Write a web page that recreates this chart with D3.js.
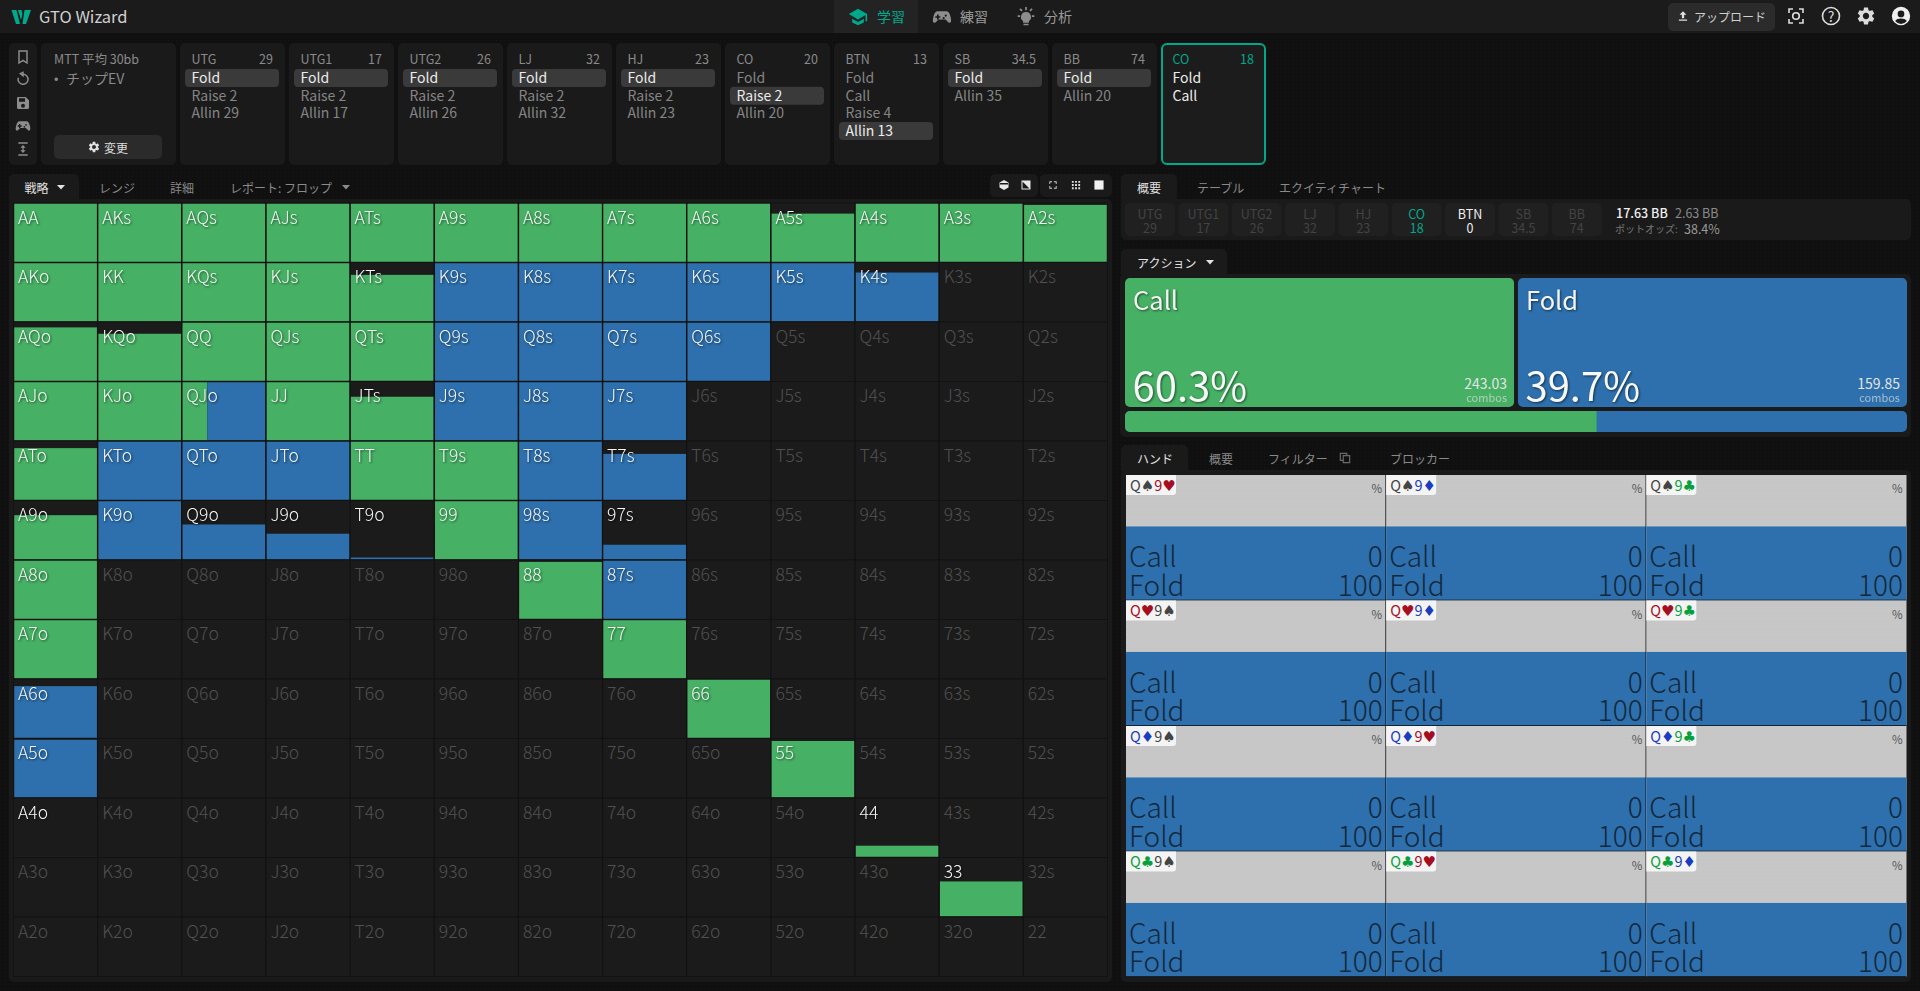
<!DOCTYPE html>
<html lang="ja">
<head>
<meta charset="utf-8">
<title>GTO Wizard</title>
<script src="https://cdn.jsdelivr.net/npm/d3@7"></script>
<style>
  html, body { margin: 0; padding: 0; background: #101010; overflow: hidden; }
  svg { display: block; }
  text { font-family: "Noto Sans CJK JP", "Noto Sans", sans-serif; }
  .shadow { filter: drop-shadow(1px 1px 1px rgba(0,0,0,.55)); }
</style>
</head>
<body>
<div id="app"></div>
<script>
// hand grid
const ranks = ["A", "K", "Q", "J", "T", "9", "8", "7", "6", "5", "4", "3", "2"];

// how much of each hand is in range (bar height)
const handReach = [
  [1, 1, 1, 1, 1, 1, 1, 1, 1, .83, 1, 1, .98],
  [1, 1, 1, 1, .8, 1, 1, 1, 1, 1, .84, 0, 0],
  [.92, .81, 1, 1, 1, 1, 1, 1, 1, 0, 0, 0, 0],
  [1, 1, 1, 1, .75, 1, 1, 1, 0, 0, 0, 0, 0],
  [.89, 1, 1, 1, 1, 1, 1, .79, 0, 0, 0, 0, 0],
  [.76, 1, .6, .44, .03, 1, 1, .25, 0, 0, 0, 0, 0],
  [1, 0, 0, 0, 0, 0, .98, 1, 0, 0, 0, 0, 0],
  [1, 0, 0, 0, 0, 0, 0, 1, 0, 0, 0, 0, 0],
  [.89, 0, 0, 0, 0, 0, 0, 0, 1, 0, 0, 0, 0],
  [.99, 0, 0, 0, 0, 0, 0, 0, 0, .97, 0, 0, 0],
  [.001, 0, 0, 0, 0, 0, 0, 0, 0, 0, .19, 0, 0],
  [0, 0, 0, 0, 0, 0, 0, 0, 0, 0, 0, .6, 0],
  [0, 0, 0, 0, 0, 0, 0, 0, 0, 0, 0, 0, 0]
];

// share of the bar that is Call, the rest is Fold
const handCall = [
  [1, 1, 1, 1, 1, 1, 1, 1, 1, 1, 1, 1, 1],
  [1, 1, 1, 1, 1, 0, 0, 0, 0, 0, 0, 0, 0],
  [1, 1, 1, 1, 1, 0, 0, 0, 0, 0, 0, 0, 0],
  [1, 1, .3, 1, 1, 0, 0, 0, 0, 0, 0, 0, 0],
  [1, 0, 0, 0, 1, 1, 0, 0, 0, 0, 0, 0, 0],
  [1, 0, 0, 0, 0, 1, 0, 0, 0, 0, 0, 0, 0],
  [1, 0, 0, 0, 0, 0, 1, 0, 0, 0, 0, 0, 0],
  [1, 0, 0, 0, 0, 0, 0, 1, 0, 0, 0, 0, 0],
  [0, 0, 0, 0, 0, 0, 0, 0, 1, 0, 0, 0, 0],
  [0, 0, 0, 0, 0, 0, 0, 0, 0, 1, 0, 0, 0],
  [0, 0, 0, 0, 0, 0, 0, 0, 0, 0, 1, 0, 0],
  [0, 0, 0, 0, 0, 0, 0, 0, 0, 0, 0, 1, 0],
  [0, 0, 0, 0, 0, 0, 0, 0, 0, 0, 0, 0, 0]
];

// seats in the action strip
const seatNames = ["UTG", "UTG1", "UTG2", "LJ", "HJ", "CO", "BTN", "SB", "BB", "CO"];
const seatStacks = ["29", "17", "26", "32", "23", "20", "13", "34.5", "74", "18"];
const seatActions = [
  ["Fold", "Raise 2", "Allin 29"],
  ["Fold", "Raise 2", "Allin 17"],
  ["Fold", "Raise 2", "Allin 26"],
  ["Fold", "Raise 2", "Allin 32"],
  ["Fold", "Raise 2", "Allin 23"],
  ["Fold", "Raise 2", "Allin 20"],
  ["Fold", "Call", "Raise 4", "Allin 13"],
  ["Fold", "Allin 35"],
  ["Fold", "Allin 20"],
  ["Fold", "Call"]
];
const seatPicked = [0, 0, 0, 0, 0, 1, 3, 0, 0, -1];

// stacks strip on the right
const stripNames = ["UTG", "UTG1", "UTG2", "LJ", "HJ", "CO", "BTN", "SB", "BB"];
const stripStacks = ["29", "17", "26", "32", "23", "18", "0", "34.5", "74"];

// action summary
const actionNames = ["Call", "Fold"];
const actionPercent = [60.3, 39.7];
const actionCombos = ["243.03", "159.85"];

// combos of the selected hand
const comboCards = [
  ["Q♠9♥", "Q♠9♦", "Q♠9♣"],
  ["Q♥9♠", "Q♥9♦", "Q♥9♣"],
  ["Q♦9♠", "Q♦9♥", "Q♦9♣"],
  ["Q♣9♠", "Q♣9♥", "Q♣9♦"]
];
const comboCall = [0, 0, 0];
const comboFold = [100, 100, 100];

const GREEN = "#46b164", BLUE = "#2d70ad", TEAL = "#00a88c";
const PANEL = "#1a1a1a";
const suitColor = { "♠": "#444444", "♥": "#a50e1e", "♦": "#1a3cc0", "♣": "#08a03c" };

const width = 1920, height = 991;
const svg = d3.select("#app").append("svg").attr("width", width).attr("height", height);

// faint dotted texture of the page
const dots = svg.append("defs").append("pattern").attr("id", "dots")
  .attr("width", 4).attr("height", 4).attr("patternUnits", "userSpaceOnUse");
dots.append("rect").attr("width", 1).attr("height", 1).attr("fill", "#fff").attr("opacity", .025);
const dotsDark = svg.select("defs").append("pattern").attr("id", "dotsDark")
  .attr("width", 4).attr("height", 4).attr("patternUnits", "userSpaceOnUse");
dotsDark.append("rect").attr("width", 1).attr("height", 1).attr("fill", "#000").attr("opacity", .025);
svg.append("rect").attr("width", width).attr("height", height).attr("fill", "url(#dots)");

function box(g, x, y, w, h, fill, r = 5) {
  return g.append("rect").attr("x", x).attr("y", y).attr("width", w).attr("height", h)
    .attr("rx", r).attr("fill", fill);
}

function label(g, str, x, y, size, fill, anchor = "start", weight = 400) {
  return g.append("text").attr("x", x).attr("y", y).attr("font-size", size)
    .attr("fill", fill).attr("text-anchor", anchor).attr("font-weight", weight)
    .attr("dominant-baseline", "central").text(str);
}

// 24 unit icons, centred on cx,cy
function icon(g, d, cx, cy, size, fill, stroke) {
  return g.append("path").attr("d", d)
    .attr("transform", `translate(${cx - size / 2},${cy - size / 2}) scale(${size / 24})`)
    .attr("fill", stroke ? "none" : fill)
    .attr("fill-rule", "evenodd")
    .attr("stroke", stroke ? fill : "none")
    .attr("stroke-width", stroke ? 2.2 : 0);
}

const ICON = {
  gear: "M19.14 12.94c.04-.3.06-.61.06-.94 0-.32-.02-.64-.07-.94l2.03-1.58c.18-.14.23-.41.12-.61l-1.92-3.32c-.12-.22-.37-.29-.59-.22l-2.39.96c-.5-.38-1.03-.7-1.62-.94L14.4 2.81c-.04-.24-.24-.41-.48-.41h-3.84c-.24 0-.43.17-.47.41L9.25 5.35c-.59.24-1.13.57-1.62.94L5.24 5.33c-.22-.08-.47 0-.59.22L2.74 8.87c-.12.21-.08.47.12.61l2.03 1.58c-.05.3-.09.63-.09.94s.02.64.07.94l-2.03 1.58c-.18.14-.23.41-.12.61l1.92 3.32c.12.22.37.29.59.22l2.39-.96c.5.38 1.03.7 1.62.94l.36 2.54c.05.24.24.41.48.41h3.84c.24 0 .44-.17.47-.41l.36-2.54c.59-.24 1.13-.56 1.62-.94l2.39.96c.22.08.47 0 .59-.22l1.92-3.32c.12-.22.07-.47-.12-.61zM12 15.6c-1.98 0-3.6-1.62-3.6-3.6s1.62-3.6 3.6-3.6 3.6 1.62 3.6 3.6-1.62 3.6-3.6 3.6z",
  bookmark: "M6 3h12v18l-6-4-6 4z",
  refresh: "M8 4l4 -2v5zM12 5a7.5 7.5 0 1 1-7 5",
  save: "M5 3h11l5 5v11a2 2 0 0 1-2 2H5a2 2 0 0 1-2-2V5a2 2 0 0 1 2-2zm7 10a3 3 0 1 0 0 6 3 3 0 0 0 0-6zM6 5v5h9V5z",
  pad: "M7 5h10c3 0 4.5 3 5.5 7.500s.5 6.500-1.500 6.500-4-4-5-4H8c-1 0-3 4-5 4s-2.500-2-1.500-6.500S4 5 7 5zM6 9v2H4v2h2v2h2v-2h2v-2H8V9zm10.500 0a1.300 1.300 0 1 0 0 2.600 1.300 1.300 0 0 0 0-2.600zm-2.500 3a1.300 1.300 0 1 0 0 2.600 1.300 1.300 0 0 0 0-2.600z",
  height: "M5 2h14v2H5zM5 20h14v2H5zM12 6l4 4h-3v4h3l-4 4-4-4h3v-4H8z",
  cap: "M12 2 1 8.500l11 6.500 9-5.300V17h2V8.500zM5 14v4.500L12 22l7-3.500V14l-7 4z",
  bulb: "M12 6a6 6 0 0 0-3.500 10.900V19h7v-2.100A6 6 0 0 0 12 6zM9 20h6v2H9zM11 0h2v4h-2zM2 10h3v2H2zM19 10h3v2h-3zM4 3l1.500-1.500L8 4 6.500 5.500zM20 3l-1.500-1.500L16 4l1.500 1.500z",
  upload: "M5 20h14v-2H5zM12 4l-6 6h4v6h4v-6h4z",
  user: "M12 1a11 11 0 1 0 0 22 11 11 0 0 0 0-22zm0 4.500a4 4 0 1 1 0 8 4 4 0 0 1 0-8zm0 16a9 9 0 0 1-7-3.500c1-2 4-3 7-3s6 1 7 3a9 9 0 0 1-7 3.500z"
};

// ---------- header ----------
const head = svg.append("g");
box(head, 0, 0, width, 33, "#1b1b1b", 0);
head.append("path").attr("d", "M11.500 10h5l3.500 14h-4zM18 10h3.500l1 4-1.500 6zM24.500 10h6.500l-5 14h-3.500z")
  .attr("fill", TEAL);
label(head, "GTO Wizard", 39, 16, 16.500, "#d0d0d0");
box(head, 834, 0, 84, 33, "#232323", 0);
icon(head, ICON.cap, 858, 17, 20, TEAL);
label(head, "学習", 877, 16, 14, TEAL);
icon(head, ICON.pad, 942, 17, 20, "#8d8d8d");
label(head, "練習", 960, 16, 14, "#9a9a9a");
icon(head, ICON.bulb, 1026, 17, 20, "#8d8d8d");
label(head, "分析", 1044, 16, 14, "#9a9a9a");
box(head, 1668, 3, 107, 28, "#2b2b2b");
icon(head, ICON.upload, 1683, 16, 14, "#e0e0e0");
label(head, "アップロード", 1694, 16, 12, "#cfcfcf");
const shot = head.append("g").attr("fill", "none").attr("stroke", "#dcdcdc").attr("stroke-width", 1.6);
shot.append("path").attr("d", "M1789 13v-4h4M1799 9h4v4M1803 19v4h-4M1793 23h-4v-4");
shot.append("circle").attr("cx", 1796).attr("cy", 16).attr("r", 3.3);
head.append("circle").attr("cx", 1831).attr("cy", 16).attr("r", 8.500).attr("fill", "none").attr("stroke", "#dcdcdc").attr("stroke-width", 1.6);
label(head, "?", 1831, 16, 14, "#dcdcdc", "middle");
icon(head, ICON.gear, 1866, 16, 21, "#dcdcdc");
icon(head, ICON.user, 1901, 16, 20, "#efefef");

// ---------- action strip ----------
const strip = svg.append("g");
box(strip, 9, 43, 28, 122, PANEL);
[["bookmark", 57], ["refresh", 79], ["save", 103], ["pad", 126], ["height", 149]].forEach(([k, y]) => {
  icon(strip, ICON[k], 23, y, 16, "#8d8d8d", k === "bookmark" || k === "refresh");
});
box(strip, 41, 43, 135, 122, PANEL);
label(strip, "MTT 平均 30bb", 54, 58, 12.5, "#8a8a8a");
label(strip, "•", 54, 77, 13, "#8a8a8a");
label(strip, "チップEV", 66, 78, 14, "#8a8a8a");
box(strip, 54, 135, 108, 24, "#2b2b2b");
icon(strip, ICON.gear, 94, 147, 13, "#e0e0e0");
label(strip, "変更", 104, 147, 12, "#dcdcdc");

const seatX = d3.scaleLinear().domain([0, 9]).range([180, 1161]);
const actionY = d3.scaleLinear().domain([0, 3]).range([78, 131]);
const seatW = 105;
const seats = strip.selectAll(".seat").data(seatNames).enter().append("g")
  .attr("class", "seat")
  .attr("transform", (d, i) => `translate(${seatX(i)},43)`);
seats.append("rect")
  .attr("x", (d, i) => i === 9 ? 1 : 0).attr("y", (d, i) => i === 9 ? 1 : 0)
  .attr("width", (d, i) => i === 9 ? seatW - 2 : seatW)
  .attr("height", (d, i) => i === 9 ? 120 : 122).attr("rx", 5)
  .attr("fill", (d, i) => i === 9 ? "#1c1c1c" : PANEL)
  .attr("stroke", (d, i) => i === 9 ? TEAL : "none")
  .attr("stroke-width", 2);
seats.each(function (name, i) {
  const g = d3.select(this);
  const live = i === 9;
  label(g, name, 11.500, 15, 12.500, live ? TEAL : "#8a8a8a");
  label(g, seatStacks[i], seatW - 12, 15, 12.500, live ? TEAL : "#8a8a8a", "end");
  if (seatPicked[i] >= 0) {
    box(g, 5, actionY(seatPicked[i]) - 43 - 9, 94, 18, "#3a3a3a", 4);
  }
  seatActions[i].forEach((a, k) => {
    label(g, a, 11.500, actionY(k) - 44, 14, (live || seatPicked[i] === k) ? "#ececec" : "#858585");
  });
});

// ---------- tabs ----------
function tabs(g, x, y, w, names) {
  box(g, x, y, w, 30, PANEL);
  names.forEach(([t, tx, on]) => label(g, t, tx, y + 13, 12, on ? "#e2e2e2" : "#8a8a8a"));
}
function caret(g, cx, cy, fill) {
  g.append("path").attr("d", `M${cx - 4} ${cy - 2}h8l-4 4.500z`).attr("fill", fill);
}
const chrome = svg.append("g");
tabs(chrome, 9, 174, 70, [["戦略", 24.500, true]]);
caret(chrome, 61, 187, "#e2e2e2");
[["レンジ", 99], ["詳細", 170], ["レポート: フロップ", 230]].forEach(([t, x]) => label(chrome, t, x, 187, 12, "#8a8a8a"));
caret(chrome, 346, 187, "#8a8a8a");

box(chrome, 990, 174, 48, 23, PANEL);
box(chrome, 1040, 174, 72, 23, PANEL);
icon(chrome, "M12 2l9 5v10l-9 5-9-5V7zM4 8v3h16V8z", 1004, 185, 12, "#e8e8e8");
icon(chrome, "M3 3h18v18H3zM5 19h14L5 5z", 1026, 185, 12, "#e8e8e8");
icon(chrome, "M4 4h6v2H6v4H4zM14 4h6v6h-2V6h-4zM4 14h2v4h4v2H4zM18 14h2v6h-6v-2h4z", 1053, 185, 11, "#cfcfcf");
icon(chrome, "M3 3h4v4H3zM10 3h4v4h-4zM17 3h4v4h-4zM3 10h4v4H3zM10 10h4v4h-4zM17 10h4v4h-4zM3 17h4v4H3zM10 17h4v4h-4zM17 17h4v4h-4z", 1076, 185, 11, "#e0e0e0");
icon(chrome, "M2 2h20v20H2z", 1099, 185, 11, "#f0f0f0");

// ---------- strategy grid ----------
box(chrome, 9, 199, 1103, 783, PANEL);
const gridG = svg.append("g");
const gx = d3.scaleBand().domain(d3.range(13)).range([13.500, 1107.500]);
const gy = d3.scaleBand().domain(d3.range(13)).range([203, 976.500]);
const fillH = d3.scaleLinear().domain([0, 1]).range([0, gy.bandwidth() - 1.500]);
const fillW = d3.scaleLinear().domain([0, 1]).range([0, gx.bandwidth() - 1.500]);

const hands = [];
ranks.forEach((r, row) => ranks.forEach((c, col) => {
  const name = row === col ? r + c : row < col ? r + c + "s" : c + r + "o";
  hands.push({ name, row, col, reach: handReach[row][col], call: handCall[row][col] });
}));

const cell = gridG.selectAll(".cell").data(hands).enter().append("g")
  .attr("class", "cell")
  .attr("transform", d => `translate(${gx(d.col)},${gy(d.row)})`);
cell.append("rect")
  .attr("width", gx.bandwidth()).attr("height", gy.bandwidth())
  .attr("fill", "#1b1b1b").attr("stroke", "#121212").attr("stroke-width", 1);
cell.filter(d => d.reach > 0 && d.call > 0).append("rect")
  .attr("x", .750).attr("y", d => gy.bandwidth() - .750 - fillH(d.reach))
  .attr("width", d => fillW(d.call)).attr("height", d => fillH(d.reach)).attr("fill", GREEN);
cell.filter(d => d.reach > 0 && d.call < 1).append("rect")
  .attr("x", d => .750 + fillW(d.call)).attr("y", d => gy.bandwidth() - .750 - fillH(d.reach))
  .attr("width", d => fillW(1 - d.call)).attr("height", d => fillH(d.reach)).attr("fill", BLUE);
cell.append("text")
  .attr("x", 4.500).attr("y", 20.500).attr("font-size", 17.500).attr("font-weight", 300)
  .attr("class", d => d.reach > 0 ? "shadow" : null)
  .attr("fill", d => d.reach > 0 ? "#f6f6f6" : "#505050")
  .text(d => d.name);

// ---------- right column ----------
const right = svg.append("g");
box(right, 1121, 174, 56, 30, PANEL);
label(right, "概要", 1137, 187, 12, "#e2e2e2");
label(right, "テーブル", 1197, 187, 12, "#8a8a8a");
label(right, "エクイティチャート", 1279, 187, 12, "#8a8a8a");

box(right, 1121, 199, 790, 41, PANEL);
const chipX = d3.scaleLinear().domain([0, 8]).range([1125, 1551.700]);
stripNames.forEach((n, i) => {
  const col = i === 5 ? TEAL : i === 6 ? "#efefef" : "#434343";
  box(right, chipX(i), 203, 50, 33, "#202020");
  label(right, n, chipX(i) + 25, 213, 12.500, col, "middle");
  label(right, stripStacks[i], chipX(i) + 25, 227, 12.500, col, "middle");
});
label(right, "17.63 BB", 1616, 212, 12.500, "#efefef", "start", 500);
label(right, "2.63 BB", 1675, 212, 12.500, "#8a8a8a");
label(right, "ポットオッズ:", 1615, 228, 10, "#777777");
label(right, "38.4%", 1684, 228, 12.500, "#999999");

// action panel
box(right, 1121, 249, 106, 30, PANEL);
label(right, "アクション", 1137, 262, 12, "#e2e2e2");
caret(right, 1210, 262, "#e2e2e2");
box(right, 1120, 274, 791, 163, PANEL);

const actX = d3.scaleBand().domain(actionNames).range([1125, 1907]).paddingInner(.01);
const actColor = d3.scaleOrdinal().domain(actionNames).range([GREEN, BLUE]);
const act = right.selectAll(".act").data(actionNames).enter().append("g")
  .attr("class", "act")
  .attr("transform", d => `translate(${actX(d)},278)`);
act.append("rect").attr("width", actX.bandwidth()).attr("height", 129).attr("rx", 5)
  .attr("fill", d => actColor(d));
act.append("text").attr("class", "shadow").attr("x", 8).attr("y", 32).attr("font-size", 25.500).attr("fill", "#f4f4f4").text(d => d);
act.append("text").attr("class", "shadow").attr("x", 7.500).attr("y", 123).attr("font-size", 40).attr("fill", "#f8f8f8").text((d, i) => actionPercent[i] + "%");
act.append("text").attr("x", actX.bandwidth() - 7).attr("y", 111).attr("text-anchor", "end").attr("font-size", 14).attr("fill", "#e4e4e4").text((d, i) => actionCombos[i]);
act.append("text").attr("x", actX.bandwidth() - 7).attr("y", 124).attr("text-anchor", "end").attr("font-size", 11).attr("fill", "#dddddd").attr("opacity", .7).text("combos");

// percent bar
const barX = d3.scaleLinear().domain([0, 100]).range([1125, 1907]);
const barG = right.append("g");
box(barG, 1125, 411, 782, 21, BLUE);
barG.append("path").attr("fill", GREEN)
  .attr("d", `M${barX(0) + 5} 411H${barX(actionPercent[0])}V432H${barX(0) + 5}a5 5 0 0 1-5-5v-11a5 5 0 0 1 5-5z`);

// hand tabs
box(right, 1121, 445, 67, 30, PANEL);
label(right, "ハンド", 1137, 458, 12, "#e2e2e2");
label(right, "概要", 1209, 458, 12, "#8a8a8a");
label(right, "フィルター", 1268, 458, 12, "#8a8a8a");
icon(right, "M3 3h13v4h5v14H8v-4H3zM5 5v10h3V7h6V5zM10 9v10h9V9z", 1345, 458, 14, "#6a6a6a");
label(right, "ブロッカー", 1390, 458, 12, "#8a8a8a");
box(right, 1121, 470, 790, 512, PANEL);

// combos
const cx = d3.scaleBand().domain(d3.range(3)).range([1126, 1906.500]);
const cy = d3.scaleBand().domain(d3.range(4)).range([475, 977]);
const blueH = d3.scaleLinear().domain([0, 100]).range([0, cy.bandwidth() * .59]);
const combos = [];
comboCards.forEach((rowCards, row) => rowCards.forEach((card, col) => combos.push({ card, row, col })));

const combo = right.selectAll(".combo").data(combos).enter().append("g")
  .attr("class", "combo")
  .attr("transform", d => `translate(${cx(d.col)},${cy(d.row)})`);
combo.append("rect").attr("width", cx.bandwidth()).attr("height", cy.bandwidth()).attr("fill", "#c7c7c7");
combo.append("rect").attr("width", cx.bandwidth()).attr("height", cy.bandwidth()).attr("fill", "url(#dotsDark)");
combo.append("rect")
  .attr("y", (d) => cy.bandwidth() - blueH(comboFold[d.col]))
  .attr("width", cx.bandwidth()).attr("height", d => blueH(comboFold[d.col]))
  .attr("fill", BLUE);
combo.append("rect").attr("width", cx.bandwidth()).attr("height", .8).attr("y", cy.bandwidth() - .8).attr("fill", "#101010");
combo.append("rect").attr("x", cx.bandwidth() - .8).attr("width", .8).attr("height", cy.bandwidth()).attr("fill", d => d.col < 2 ? "#101010" : "none");
combo.append("path").attr("d", "M0 0H50V17a3 3 0 0 1-3 3H0z").attr("fill", "#f4f4f4");
const cardText = combo.append("text").attr("x", 4).attr("y", 15.500).attr("font-size", 14.500);
cardText.each(function (d) {
  const t = d3.select(this);
  const parts = Array.from(d.card);
  parts.forEach((ch, i) => {
    const isSuit = i % 2 === 1;
    t.append("tspan")
      .attr("font-family", isSuit ? "DejaVu Sans" : null)
      .attr("font-size", isSuit ? 15 : null)
      .attr("fill", isSuit ? suitColor[ch] : suitColor[parts[i + 1]])
      .text(ch);
  });
});
combo.append("text").attr("x", cx.bandwidth() - 4).attr("y", 18).attr("text-anchor", "end").attr("font-size", 11.500).attr("fill", "#555555").text("%");
const ink = "#14283c";
actionNames.forEach((n, k) => {
  const base = k === 0 ? 92 : 120.500;
  combo.append("text").attr("x", 3).attr("y", base).attr("font-size", 28).attr("font-weight", 300).attr("fill", ink).text(n);
  combo.append("text").attr("x", cx.bandwidth() - 3.500).attr("y", base).attr("font-size", 28).attr("font-weight", 300).attr("fill", ink)
    .attr("text-anchor", "end").text(d => k === 0 ? comboCall[d.col] : comboFold[d.col]);
});
</script>
</body>
</html>
